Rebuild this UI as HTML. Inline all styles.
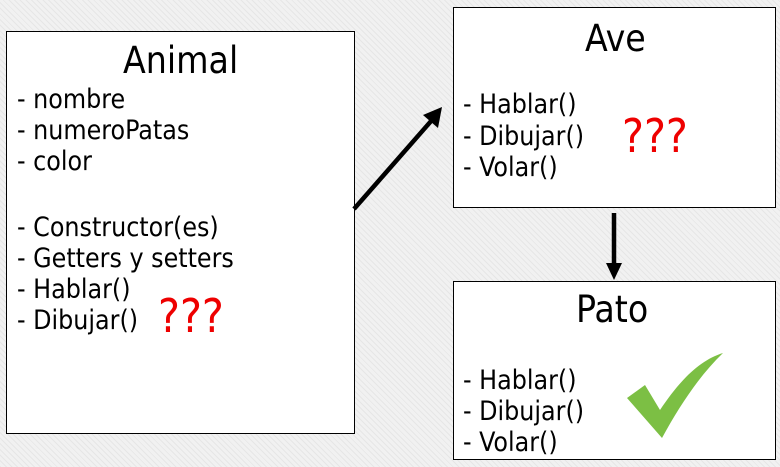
<!DOCTYPE html>
<html><head><meta charset="utf-8"><style>
html,body{margin:0;padding:0}
body{width:780px;height:467px;overflow:hidden;background:#f1f1f1;
background-image:repeating-linear-gradient(45deg,#e6e6e6 0 1px,transparent 1px 4px);position:relative;font-family:"DejaVu Sans Condensed","Liberation Sans",sans-serif}
.box{position:absolute;background:#fff;border:1.5px solid #000;box-sizing:border-box}
.t{position:absolute;white-space:nowrap;color:#000;font-size:26.5px;line-height:1}
.h{font-size:37px}
.q{color:#e00;font-size:46px}
</style></head><body>
<div class="box" style="left:6px;top:31px;width:349px;height:403px"></div>
<div class="box" style="left:453px;top:7px;width:323px;height:201px"></div>
<div class="box" style="left:453px;top:281px;width:323px;height:179px"></div>

<div class="t h" style="left:123px;top:42px">Animal</div>
<div class="t" style="left:17px;top:87px">- nombre</div>
<div class="t" style="left:17px;top:118px">- numeroPatas</div>
<div class="t" style="left:17px;top:149px">- color</div>
<div class="t" style="left:17px;top:215px">- Constructor(es)</div>
<div class="t" style="left:17px;top:246px">- Getters y setters</div>
<div class="t" style="left:17px;top:277px">- Hablar()</div>
<div class="t" style="left:17px;top:308px">- Dibujar()</div>
<div class="t q" style="left:158px;top:293px">???</div>

<div class="t h" style="left:585px;top:20px">Ave</div>
<div class="t" style="left:463px;top:92px">- Hablar()</div>
<div class="t" style="left:463px;top:124px">- Dibujar()</div>
<div class="t" style="left:463px;top:155px">- Volar()</div>
<div class="t q" style="left:622px;top:113px">???</div>

<div class="t h" style="left:576px;top:291px">Pato</div>
<div class="t" style="left:463px;top:368px">- Hablar()</div>
<div class="t" style="left:463px;top:399px">- Dibujar()</div>
<div class="t" style="left:463px;top:430px">- Volar()</div>

<svg width="780" height="467" style="position:absolute;left:0;top:0">
<line x1="354" y1="209" x2="432" y2="120" stroke="#000" stroke-width="4.5"/>
<polygon points="442,107 438,128 423,115" fill="#000"/>
<line x1="614" y1="213" x2="614" y2="265" stroke="#000" stroke-width="4.5"/>
<polygon points="606,263 622,263 614,280" fill="#000"/>
<path d="M627,398 L645,385 L660,410 C680,380 700,360 723,353 C700,375 680,405 662,438 Z" fill="#7cbf44"/>
</svg>
</body></html>
